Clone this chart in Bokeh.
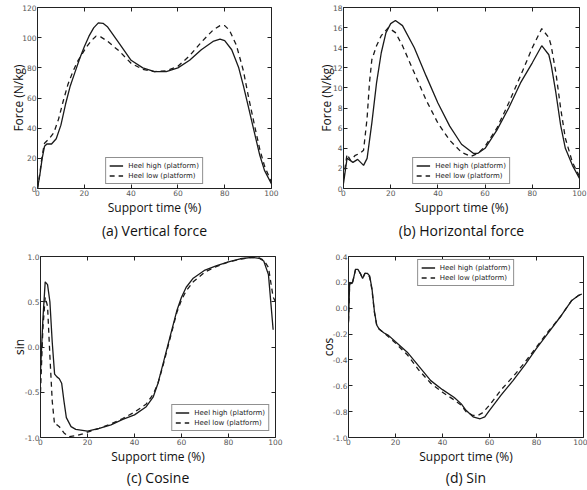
from bokeh.plotting import figure
from bokeh.models import Range1d, LinearAxis, Title, FixedTicker, NumeralTickFormatter, Legend, LegendItem
from bokeh.layouts import column, row
from bokeh.embed import file_html
from bokeh.resources import INLINE

# ---------------- data ----------------
# (a) Vertical force
va_x_high = [0, 1, 2, 3, 4, 6, 8, 10, 12, 14, 16, 18, 20, 22, 24, 26, 28, 30, 35, 40, 45, 50, 55, 60, 65, 70, 75, 78, 80, 83, 86, 88, 90, 93, 95, 97, 100]
va_y_high = [0, 9, 20, 28, 29.5, 29.5, 33, 42, 56, 68, 77, 86, 94, 101, 106.5, 109.8, 109.5, 107, 96, 85, 80, 77.5, 77.5, 80, 85, 92, 97.5, 99, 98, 92, 80, 68, 55, 35, 22, 12, 3]
va_x_low = [0, 1, 2, 3, 5, 7, 9, 11, 13, 15, 17, 19, 21, 23, 25, 27, 30, 35, 40, 45, 50, 55, 60, 65, 70, 75, 78, 80, 82, 85, 88, 90, 93, 95, 97, 100]
va_y_low = [0, 10, 22, 30, 33, 37, 46, 58, 69, 77, 84, 89, 94, 98, 101, 100.5, 97.5, 91, 83, 79, 77.5, 78, 81, 88, 97, 105, 108, 108, 105, 95, 78, 62, 40, 26, 15, 4]

# (b) Horizontal force
hb_x_high = [0, 1.5, 4, 6, 8.5, 10, 12, 14, 16, 18, 20, 22, 25, 30, 35, 40, 45, 50, 55, 57, 60, 65, 70, 75, 80, 84, 87, 88, 90, 92, 94, 97, 100]
hb_y_high = [0.5, 3.0, 2.6, 2.9, 2.3, 3.0, 6.5, 10.5, 13.5, 15.5, 16.4, 16.7, 16.2, 14.0, 11.2, 8.5, 6.2, 4.4, 3.5, 3.5, 4.0, 5.8, 8.0, 10.5, 12.5, 14.2, 13.3, 12.3, 9.5, 6.3, 4.0, 2.3, 1.0]
hb_x_low = [0, 1.5, 3, 5, 7, 8.5, 10, 11, 12, 14, 16, 19, 22, 25, 30, 35, 40, 45, 50, 54, 57, 60, 65, 70, 75, 80, 84, 87, 88, 90, 92, 94, 97, 100]
hb_y_low = [1.0, 3.4, 2.8, 3.3, 3.5, 3.8, 7.0, 10.5, 12.8, 14.2, 15.2, 16.0, 15.5, 14.2, 11.5, 8.8, 6.5, 4.8, 3.6, 3.2, 3.5, 4.2, 6.0, 8.5, 11.2, 14.0, 15.9, 15.0, 14.2, 11.5, 8.0, 5.0, 2.6, 1.2]

# (c) Cosine
cc_x_high = [0, 1, 2, 3, 4, 5, 6, 7, 8, 9, 10, 11, 13, 15, 20, 25, 30, 35, 40, 45, 48, 50, 52, 55, 58, 60, 62, 65, 70, 75, 80, 85, 90, 93, 95, 97, 99]
cc_y_high = [-0.28, 0.3, 0.72, 0.69, 0.5, 0.05, -0.3, -0.33, -0.35, -0.4, -0.6, -0.78, -0.88, -0.91, -0.93, -0.9, -0.86, -0.8, -0.75, -0.66, -0.55, -0.4, -0.2, 0.1, 0.4, 0.55, 0.66, 0.76, 0.85, 0.9, 0.94, 0.975, 0.99, 0.98, 0.95, 0.8, 0.19]
cc_x_low = [0, 1, 2, 3, 4, 5, 6, 7, 8, 10, 12, 15, 18, 20, 25, 30, 35, 40, 45, 48, 50, 52, 55, 58, 60, 62, 65, 70, 75, 80, 85, 90, 93, 95, 97, 99, 100]
cc_y_low = [-0.5, 0.2, 0.55, 0.45, -0.1, -0.6, -0.86, -0.86, -0.88, -0.95, -0.99, -0.98, -0.96, -0.94, -0.9, -0.85, -0.79, -0.72, -0.63, -0.52, -0.4, -0.22, 0.08, 0.38, 0.52, 0.62, 0.72, 0.83, 0.89, 0.94, 0.97, 0.99, 0.985, 0.96, 0.88, 0.55, 0.5]

# (d) Sin
sd_x_high = [0, 0.5, 1.5, 2, 3, 4, 5, 6, 7, 8, 9, 10, 11, 12, 13, 15, 17, 20, 25, 30, 35, 40, 45, 48, 50, 53, 56, 58, 60, 65, 70, 75, 80, 85, 90, 95, 98, 99.3]
sd_y_high = [-0.11, 0.2, 0.19, 0.22, 0.3, 0.3, 0.27, 0.23, 0.27, 0.27, 0.25, 0.15, -0.02, -0.13, -0.16, -0.19, -0.21, -0.26, -0.34, -0.45, -0.56, -0.63, -0.69, -0.74, -0.79, -0.84, -0.855, -0.84, -0.79, -0.67, -0.56, -0.44, -0.31, -0.19, -0.07, 0.06, 0.1, 0.11]
sd_x_low = [0, 0.5, 1.5, 2, 3, 4, 5, 6, 7, 8, 9, 10, 11, 12, 13, 15, 17, 20, 25, 30, 35, 40, 45, 48, 50, 53, 55, 57, 60, 65, 70, 75, 80, 85, 90, 95, 98, 99.3]
sd_y_low = [-0.1, 0.2, 0.18, 0.22, 0.3, 0.29, 0.27, 0.23, 0.27, 0.27, 0.24, 0.14, -0.03, -0.13, -0.16, -0.19, -0.22, -0.27, -0.36, -0.48, -0.58, -0.65, -0.71, -0.75, -0.8, -0.83, -0.83, -0.81, -0.75, -0.63, -0.53, -0.42, -0.3, -0.18, -0.07, 0.06, 0.1, 0.11]

x_ticks = [0, 20, 40, 60, 80, 100]
label_high = "Heel high (platform)"
label_low = "Heel low (platform)"

TEXT_FONT = "Open Sans"
TICK_FONT = "DejaVu Sans"
LINE_COLOR = "#1a1a1a"


def make_panel(xh, yh, xl, yl, y_range, y_ticks, y_fmt, y_label, caption,
               width, height, bl, br, bt, bb, legend_loc, legend_margin, cap_standoff, ylab_standoff):
    p = figure(width=width, height=height, output_backend="svg", toolbar_location=None,
               x_range=Range1d(0, 100), y_range=Range1d(*y_range),
               min_border_left=bl, min_border_right=br, min_border_top=bt, min_border_bottom=bb)
    p.grid.visible = False
    p.outline_line_color = "#222222"
    p.outline_line_width = 1
    p.background_fill_color = "white"
    p.border_fill_color = "white"

    r1 = p.line(xh, yh, line_color=LINE_COLOR, line_width=1.3)
    r2 = p.line(xl, yl, line_color=LINE_COLOR, line_width=1.3, line_dash="5 4")

    # extra axes for inward ticks on top and right (labels not drawn)
    top = LinearAxis()
    right = LinearAxis()
    p.add_layout(top, "above")
    p.add_layout(right, "right")

    for ax in p.xaxis:
        ax.ticker = FixedTicker(ticks=x_ticks)
    for ax in p.yaxis:
        ax.ticker = FixedTicker(ticks=y_ticks)
        ax.formatter = NumeralTickFormatter(format=y_fmt)
    for ax in list(p.xaxis) + list(p.yaxis):
        ax.major_tick_in = 4
        ax.major_tick_out = 0
        ax.minor_tick_in = 0
        ax.minor_tick_out = 0
        ax.axis_line_color = None
        ax.major_tick_line_color = "#222222"
        ax.major_label_text_font = TICK_FONT
        ax.major_label_text_font_size = "7.5px"
        ax.major_label_text_color = "#555555"
        ax.major_label_standoff = 1
    for ax in (top, right):
        ax.major_label_text_font_size = "1px"
        ax.major_label_text_color = None
        ax.major_label_standoff = 0

    bx = p.below[0]
    bx.axis_label = "Support time (%)"
    bx.axis_label_text_font = TEXT_FONT
    bx.axis_label_text_font_size = "12px"
    bx.axis_label_text_font_style = "normal"
    bx.axis_label_text_color = "#111111"
    bx.axis_label_standoff = 0

    ly = p.left[0]
    ly.axis_label = y_label
    ly.axis_label_text_font = TEXT_FONT
    ly.axis_label_text_font_size = "12px"
    ly.axis_label_text_font_style = "normal"
    ly.axis_label_text_color = "#111111"
    ly.axis_label_standoff = ylab_standoff

    legend = Legend(items=[LegendItem(label=label_high, renderers=[r1]),
                           LegendItem(label=label_low, renderers=[r2])],
                    location=legend_loc)
    legend.label_text_font = TICK_FONT
    legend.label_text_font_size = "7px"
    legend.label_text_color = "#222222"
    legend.label_height = 9
    legend.glyph_height = 9
    legend.glyph_width = 14
    legend.label_standoff = 5
    legend.spacing = 1
    legend.padding = 3
    legend.margin = legend_margin
    legend.border_line_color = "#222222"
    legend.border_line_width = 1
    legend.background_fill_alpha = 1
    p.add_layout(legend, "center")

    cap = Title(text=caption, align="center", text_font=TEXT_FONT, text_font_size="14px",
                text_font_style="normal", text_color="#111111", standoff=cap_standoff)
    p.add_layout(cap, "below")
    return p


pa = make_panel(va_x_high, va_y_high, va_x_low, va_y_low, (0, 120), [0, 20, 40, 60, 80, 100, 120], "0",
                "Force (N/kg)", "(a) Vertical force", 290, 246, 37, 19, 7, 58, "bottom_center", 4, 1, -8)
pb = make_panel(hb_x_high, hb_y_high, hb_x_low, hb_y_low, (0, 18), [0, 2, 4, 6, 8, 10, 12, 14, 16, 18], "0",
                "Force (N/kg)", "(b) Horizontal force", 297, 246, 53, 8, 7, 58, "bottom_center", 4, 1, -5)
pc = make_panel(cc_x_high, cc_y_high, cc_x_low, cc_y_low, (-1.0, 1.0), [-1.0, -0.5, 0.0, 0.5, 1.0], "0.0",
                "sin", "(c) Cosine", 290, 244, 40, 15, 10, 53, "bottom_right", 6, -4, -6)
pd_ = make_panel(sd_x_high, sd_y_high, sd_x_low, sd_y_low, (-1.0, 0.4), [-1.0, -0.8, -0.6, -0.4, -0.2, 0.0, 0.2, 0.4], "0.0",
                 "cos", "(d) Sin", 297, 244, 58, 4, 10, 53, "top_center", 3, -4, -7)

layout = column(row(pa, pb), row(pc, pd_))
open("out.html", "w").write(file_html(layout, INLINE))
